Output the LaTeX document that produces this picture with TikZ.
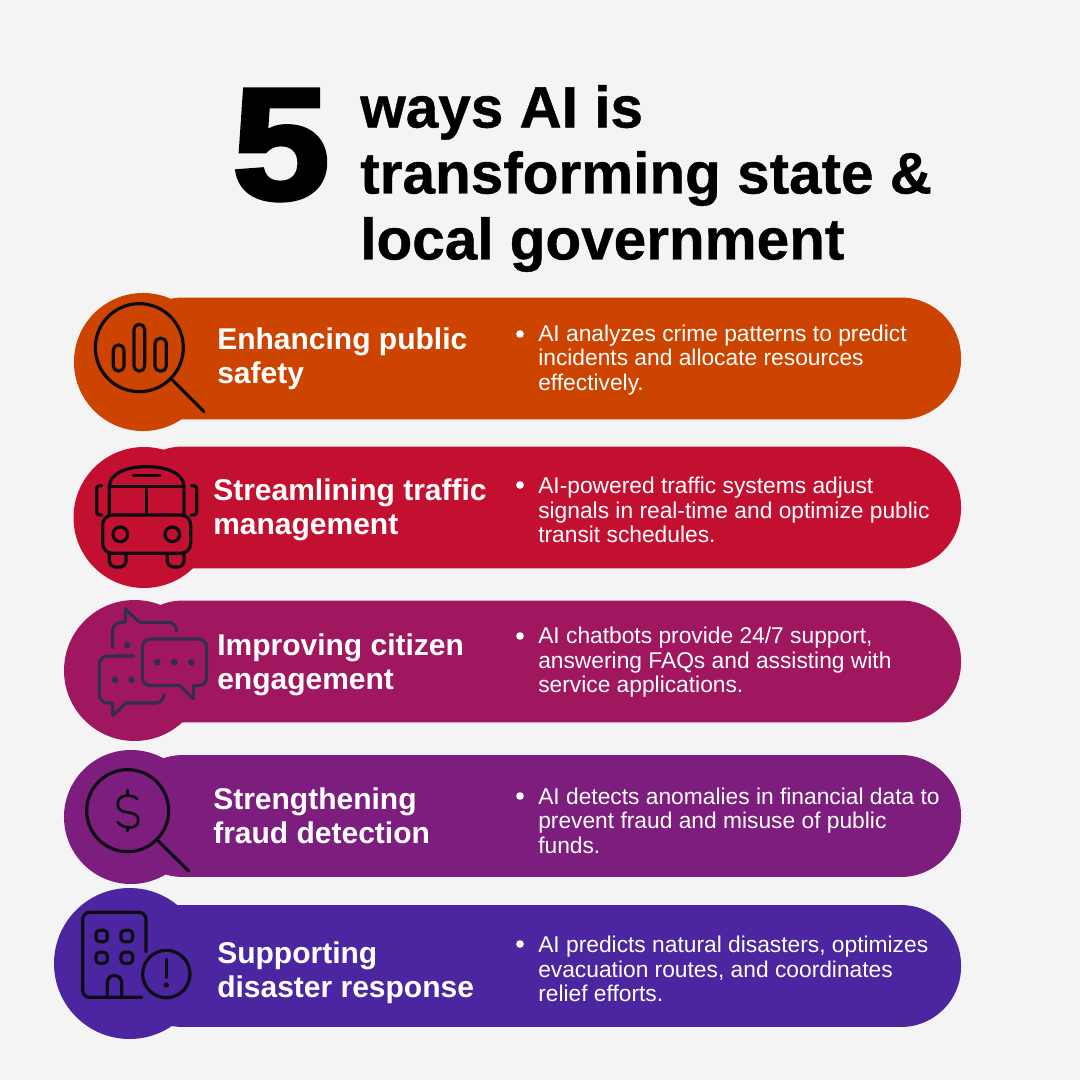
\documentclass[tikz,border=0pt]{standalone}
\usepackage{fontspec}
\setmainfont{Liberation Sans}
\newfontfamily\heavyfont[FakeBold=3]{Liberation Sans Bold}
\newfontfamily\titlefont[FakeBold=0.7]{Liberation Sans Bold}
\usetikzlibrary{positioning}
\definecolor{pagebg}{HTML}{F4F4F4}
\definecolor{rowa}{HTML}{CC4400}
\definecolor{rowb}{HTML}{C41030}
\definecolor{rowc}{HTML}{A0165F}
\definecolor{rowd}{HTML}{7D1D7E}
\definecolor{rowe}{HTML}{4C25A0}
\definecolor{iconink}{HTML}{0C0C12}
\definecolor{chatink}{HTML}{2E2F4C}
\tikzset{
    band/.style={rectangle, rounded corners=43.2pt, minimum width=603.4pt, minimum height=87.8pt, inner sep=0pt},
    blob/.style={circle, inner sep=0pt},
    headtext/.style={font=\bfseries\fontsize{21.6}{24.6}\selectfont, text=white, align=left, anchor=west, inner sep=0pt},
    bodytext/.style={font=\fontsize{16.4}{17.6}\selectfont, text=white, align=left, anchor=west, inner sep=0pt},
    dotmark/.style={circle, fill=white, inner sep=0pt, minimum size=5.5pt},
    iconline/.style={draw=iconink, line width=2.3pt, line cap=round, line join=round},
    chatline/.style={draw=chatink, line width=2.2pt, line cap=round, line join=round},
}
\begin{document}
\begin{tikzpicture}[x=0.72pt, y=-0.72pt]
    \useasboundingbox (0,0) rectangle (1080,1080);
    \fill[pagebg] (0,0) rectangle (1080,1080);

    % title
    \node[font=\heavyfont\fontsize{114}{114}\selectfont, text=black, inner sep=0pt, xscale=1.1, transform shape] (five) at (281,145) {5};
    \node[font=\titlefont\fontsize{42.1}{47.5}\selectfont, text=black, align=left, anchor=west, inner sep=0pt] (title) at (360,178.5) {ways AI is\\transforming state \&\\local government};

    % bands
    \node[band, fill=rowa] (banda) at (542,358.5) {};
    \node[band, fill=rowb] (bandb) at (542,507.5) {};
    \node[band, fill=rowc] (bandc) at (542,661.5) {};
    \node[band, fill=rowd] (bandd) at (542,816) {};
    \node[band, fill=rowe] (bande) at (542,966) {};

    \node[blob, fill=rowa, minimum size=99.4pt] (bloba) at (143,362) {};
    \node[blob, fill=rowb, minimum size=101.5pt] (blobb) at (144,517.5) {};
    \node[blob, fill=rowc, minimum size=101.5pt] (blobc) at (134.5,670.5) {};
    \node[blob, fill=rowd, minimum size=96.5pt] (blobd) at (131,817) {};
    \node[blob, fill=rowe, minimum size=108.7pt] (blobe) at (129.5,963.5) {};

    % headings
    \node[headtext] (heada) at (217,359) {Enhancing public\\safety};
    \node[headtext] (headb) at (213,509.5) {Streamlining traffic\\management};
    \node[headtext] (headc) at (217,665) {Improving citizen\\engagement};
    \node[headtext] (headd) at (213,816) {Strengthening\\fraud detection};
    \node[headtext] (heade) at (217,973) {Supporting\\disaster response};

    % body text
    \node[bodytext] (texta) at (538,360) {AI analyzes crime patterns to predict\\incidents and allocate resources\\effectively.};
    \node[bodytext] (textb) at (538,510) {AI-powered traffic systems adjust\\signals in real-time and optimize public\\transit schedules.};
    \node[bodytext] (textc) at (538,662.5) {AI chatbots provide 24/7 support,\\answering FAQs and assisting with\\service applications.};
    \node[bodytext] (textd) at (538,820.5) {AI detects anomalies in financial data to\\prevent fraud and misuse of public\\funds.};
    \node[bodytext] (texte) at (538,969) {AI predicts natural disasters, optimizes\\evacuation routes, and coordinates\\relief efforts.};

    \node[dotmark] (dota) at (520,334) {};
    \node[dotmark] (dotb) at (520,485) {};
    \node[dotmark] (dotc) at (520,636) {};
    \node[dotmark] (dotd) at (520,796) {};
    \node[dotmark] (dote) at (520,944) {};

    % magnifier with bars
    \begin{scope}[shift={(50,285)}, scale=1/3]
        \draw[iconline] (268,188) circle[radius=132];
        \draw[iconline] (365,283) -- (462,380);
        \draw[iconline, rounded corners=3.6pt] (190,258) rectangle (222,180);
        \draw[iconline, rounded corners=3.6pt] (252,258) rectangle (284,118);
        \draw[iconline, rounded corners=3.6pt] (315,258) rectangle (349,160);
    \end{scope}

    % bus
    \begin{scope}[shift={(50,285)}, scale=1/3]
        \draw[iconline] (178,690) -- (178,605) .. controls (178,565) and (230,545) .. (290,545) .. controls (350,545) and (402,565) .. (402,605) -- (402,690);
        \draw[iconline] (178,605) -- (402,605);
        \draw[iconline] (290,605) -- (290,690);
        \draw[iconline] (250,572) -- (330,572);
        \draw[iconline, rounded corners=7pt] (158,690) rectangle (422,805);
        \draw[iconline] (211,748) circle[radius=22];
        \draw[iconline] (367,748) circle[radius=22];
        \draw[iconline, rounded corners=4pt] (178,805) -- (178,846) -- (228,846) -- (228,805);
        \draw[iconline, rounded corners=4pt] (352,805) -- (352,846) -- (402,846) -- (402,805);
        \draw[iconline, rounded corners=2pt] (155,602) -- (140,602) -- (140,690) -- (155,690);
        \draw[iconline, rounded corners=2pt] (424,602) -- (440,602) -- (440,690) -- (424,690);
    \end{scope}

    % chat bubbles
    \begin{scope}[shift={(50,595)}, scale=1/3]
        \draw[chatline] (188,158) [rounded corners=6pt] -- (188,82) [sharp corners] -- (226,82) -- (226,42) -- (268,82) [rounded corners=6pt] -- (380,82) -- (380,108);
        \fill[chatink] (232,150) circle[radius=10];
        \draw[chatline] (277,200) [rounded corners=6pt] -- (277,132) -- (470,132) -- (470,272) [sharp corners] -- (430,272) -- (430,312) -- (390,272) [rounded corners=6pt] -- (277,272) -- (277,200);
        \fill[chatink] (322,202) circle[radius=10] (373,202) circle[radius=10] (424,202) circle[radius=10];
        \draw[chatline] (252,183) [rounded corners=6pt] -- (148,183) -- (148,324) [sharp corners] -- (188,324) -- (188,362) -- (228,324) [rounded corners=6pt] -- (342,324) -- (342,298);
        \fill[chatink] (195,254) circle[radius=10] (245,254) circle[radius=10];
    \end{scope}

    % magnifier with dollar
    \begin{scope}[shift={(50,595)}, scale=1/3]
        \draw[iconline] (233,647) circle[radius=123];
        \draw[iconline] (325,738) -- (416,828);
        \draw[iconline, line width=1.9pt] (262,612) .. controls (245,596) and (203,596) .. (203,628) .. controls (203,665) and (265,640) .. (265,675) .. controls (265,706) and (220,702) .. (203,682);
        \draw[iconline, line width=1.9pt] (233,585) -- (233,600);
        \draw[iconline, line width=1.9pt] (233,696) -- (233,708);
    \end{scope}

    % building with warning
    \begin{scope}[shift={(50,595)}, scale=1/3]
        \draw[iconline, rounded corners=5pt] (288,1070) -- (288,952) -- (98,952) -- (98,1207) -- (275,1207);
        \draw[iconline, rounded corners=2.5pt] (138,1006) rectangle (172,1040);
        \draw[iconline, rounded corners=2.5pt] (213,1006) rectangle (248,1040);
        \draw[iconline, rounded corners=2.5pt] (138,1072) rectangle (172,1105);
        \draw[iconline, rounded corners=2.5pt] (213,1072) rectangle (248,1105);
        \draw[iconline] (172,1207) -- (172,1163) arc[start angle=180, end angle=360, radius=21.5] -- (215,1207);
        \draw[iconline] (349,1137) circle[radius=71];
        \draw[iconline, line width=1.9pt] (349,1092) -- (349,1148);
        \fill[iconink] (349,1170) circle[radius=8];
    \end{scope}
\end{tikzpicture}
\end{document}
